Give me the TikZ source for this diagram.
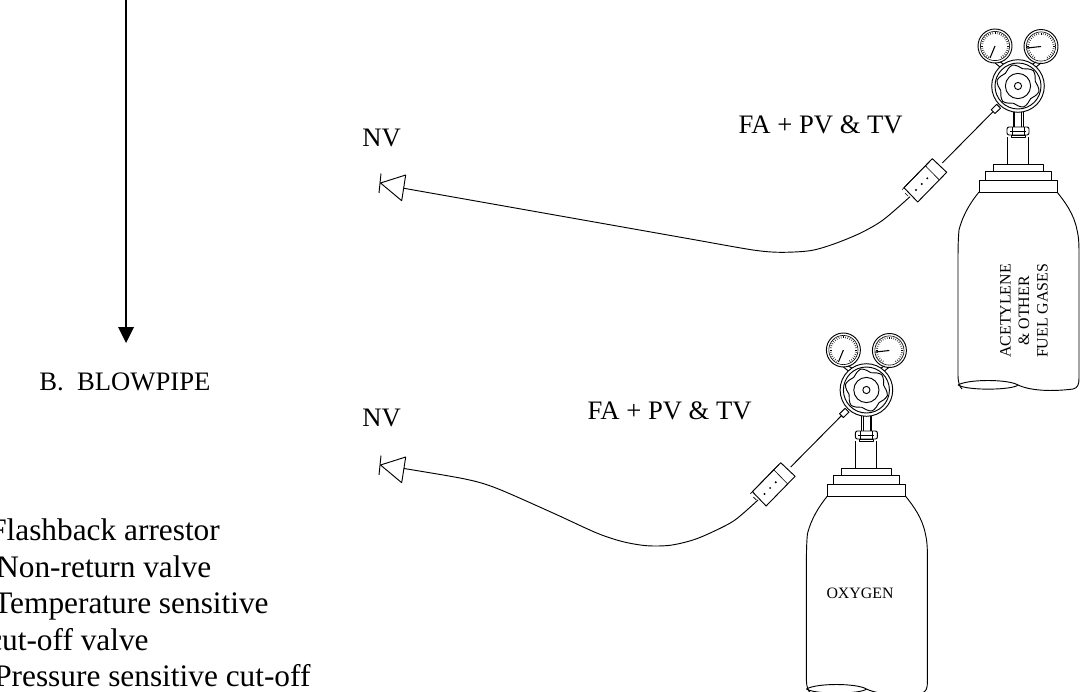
\documentclass[tikz,border=0pt]{standalone}
\usepackage{fontspec}
\setmainfont{Liberation Serif}
\begin{document}
\begin{tikzpicture}[x=0.75pt,y=-0.75pt,line join=round,
  lbl/.style={inner sep=0pt,anchor=base west,font=\fontsize{20}{24}\selectfont},
  lble/.style={inner sep=0pt,anchor=base east,font=\fontsize{20}{24}\selectfont},
  legend/.style={inner sep=0pt,anchor=base west,font=\fontsize{23.5}{28}\selectfont},
  tiny/.style={inner sep=0pt,font=\fontsize{11.9}{13.9}\selectfont,align=center},
  thinl/.style={line width=0.45pt},
  med/.style={line width=0.7pt},
  cyl/.pic={
    % gauges
    \foreach \cx/\cy in {-23/-40,23/-39.5}{
      \fill[white] (\cx,\cy) circle (17);
      \draw[med] (\cx,\cy) circle (17);
      \draw[thinl] (\cx,\cy) circle (14.6);
      \foreach \a in {-150,-140,...,150}{
        \draw[line width=0.35pt] ({\cx+13.8*sin(\a)},{\cy-13.8*cos(\a)}) -- ({\cx+11.8*sin(\a)},{\cy-11.8*cos(\a)});
      }
    }
    \draw[line width=0.8pt] (-23,-40) -- (-28,-28);
    \draw[line width=0.8pt] (23,-39.5) -- (9,-38);
    \draw[med] (-18,-24) -- (-13,-21) (-23,-23) -- (-18,-19);
    \draw[med] (18,-24) -- (13,-21) (23,-23) -- (18,-19);
    % regulator
    \fill[white] (0,0) circle (26.3);
    \draw[med] (0,0) circle (26.3);
    \draw[med] (0,0) circle (23);
    \draw[med,smooth cycle] plot[domain=0:345,samples=24] ({(19.8+1.9*cos(6*\x))*cos(\x+15)},{(19.8+1.9*cos(6*\x))*sin(\x+15)});
    \draw[med] (0,0) circle (12.6);
    \draw[med] (0,0) circle (3.6);
    % stem and nut
    \draw[med] (-5,26) -- (-5,41) (5,26) -- (5,41);
    \draw[thinl] (-3.4,26) -- (-3.4,41) (3.4,26) -- (3.4,41);
    \draw[med,rounded corners=1.5pt] (-11,41) rectangle (11,49);
    \draw[thinl] (-6,41) -- (-6,49) (6,41) -- (6,49) (-8,45) -- (8,45);
    \draw[med] (-7,49) rectangle (7,51);
    % neck and collars
    \draw[med] (-10.5,51) -- (-10.5,78) (10.5,51) -- (10.5,78);
    \draw[med] (-25,78) rectangle (25,85.5);
    \draw[med] (-33,85.5) rectangle (33,94);
    \draw[med] (-39,94) rectangle (39,106);
    % body
    \draw[med] (-39,106) .. controls (-47,116) and (-55,128) .. (-59,144)
      .. controls (-60,155) and (-60,165) .. (-60,175) -- (-60,290)
      .. controls (-60,297) and (-58,301) .. (-56,303);
    \draw[med] (39,106) .. controls (47,116) and (56,128) .. (59,144)
      .. controls (61,152) and (61,160) .. (61,170) -- (61,292)
      .. controls (61,298) and (60,302) .. (55,303)
      .. controls (40,305) and (15,306) .. (0,299);
    \draw[med] (-60,299) .. controls (-50,293) and (-10,293) .. (0,299)
      .. controls (-5,304) and (-50,305) .. (-60,299);
    % fitting and regulator-side hose
    \draw[med,fill=white] (-21.3,18.3) -- (-17.5,22.2) -- (-23,27.5) -- (-26.8,23.7) -- cycle;
    \draw[med] (-24.9,25.6) -- (-75.7,77);
    % flashback arrestor
    \draw[med,fill=white] (-85.7,72.7) -- (-71.3,86.3) -- (-100.3,116) -- (-114,101.7) -- cycle;
    \draw[thinl] (-92.7,79.7) -- (-78.7,94);
    \draw[thinl] (-87.7,74.7) -- (-116,103.7) (-113,107) -- (-110,110);
    \fill (-90.7,92.3) circle (1.1) (-96.3,98) circle (1.1) (-102,104) circle (1.1);
  },
  nv/.pic={
    \draw[med] (-1,-9.5) -- (-3,10);
    \draw[med] (-1.5,0) -- (23.7,-8) -- (19.7,17.7) -- cycle;
  }]
\useasboundingbox (0,0) rectangle (1081,692);
\fill[white] (0,0) rectangle (1081,692);

% arrow
\coordinate (arrowtop) at (126,0);
\coordinate (arrowend) at (126,343);
\draw[line width=0.9pt] (arrowtop) -- (126,330);
\fill (arrowend) -- (118,327) -- (134,327) -- cycle;
\node[lbl] (blow) at (39,390) {B.\ \ BLOWPIPE};

% legend
\node[legend] (l1) at (-11,540) {Flashback arrestor};
\node[legend] (l2) at (-4,577) {Non-return valve};
\node[legend] (l3) at (-7,613) {Temperature sensitive};
\node[legend] (l4) at (-12,650) {cut-off valve};
\node[legend] (l5) at (-6,686) {Pressure sensitive cut-off};

% top assembly
\pic at (1018,86) {cyl};
\pic at (382,183) {nv};
\node[lbl] (nv1) at (362,146) {NV};
\node[lble] (fa1) at (903,133) {FA + PV \& TV};
\node[tiny,rotate=90] (acet) at (1024,311) {ACETYLENE\\\& OTHER\\FUEL GASES};
\draw[med] (404,188.3) -- (700,240.7) plot[smooth,tension=0.5] coordinates {(700,240.7) (753,250) (780,252.3) (810,250.7) (833,244.3) (860,233.3) (883,220) (910,196.7)};

% bottom assembly
\pic at (866.4,390) {cyl};
\pic at (382,465) {nv};
\node[lbl] (nv2) at (362,426) {NV};
\node[lble] (fa2) at (752,419) {FA + PV \& TV};
\node[tiny] (oxy) at (860,593) {OXYGEN};
\draw[med] plot[smooth,tension=0.5] coordinates {(404,468.5) (465,479) (496.7,488.3) (553,513) (596.7,533) (623,541.7) (646.7,545.7) (670,545.3) (693,540) (713,531.7) (735,520) (758,500)};
\end{tikzpicture}
\end{document}
